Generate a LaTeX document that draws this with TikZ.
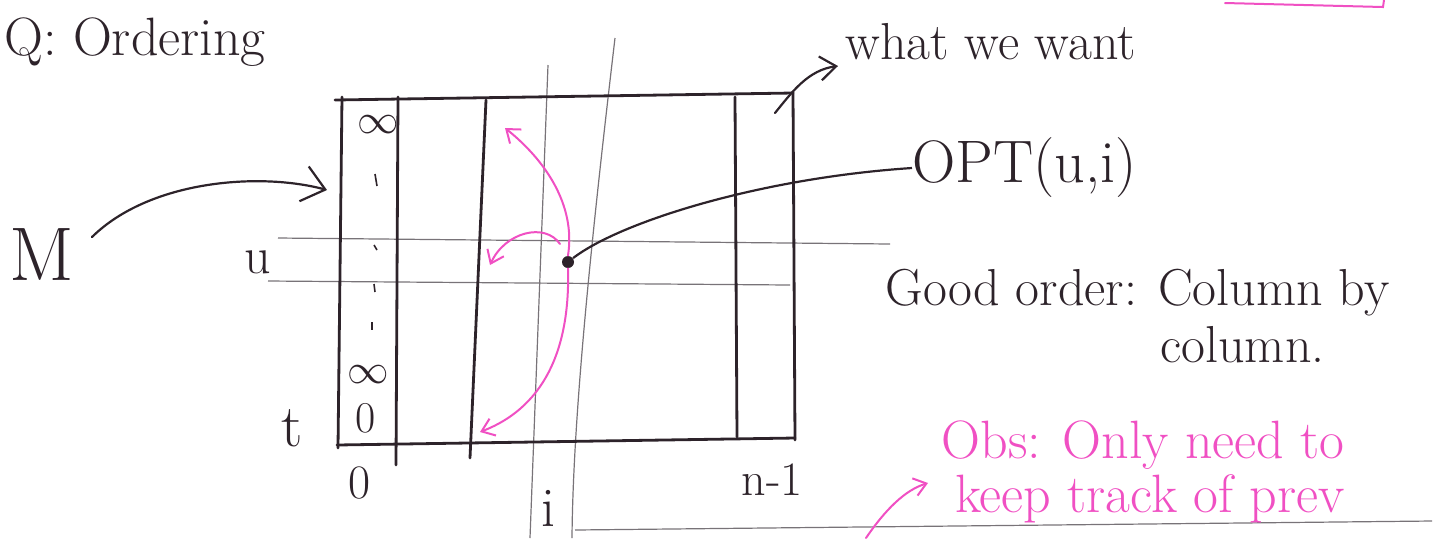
\documentclass[tikz,border=0pt]{standalone}
\usetikzlibrary{arrows.meta}
\definecolor{ink}{RGB}{45,35,42}
\definecolor{guide}{RGB}{120,115,120}
\definecolor{pinkink}{RGB}{240,80,195}
\tikzset{
  gridline/.style={draw=ink, line width=1.4pt, line cap=round},
  guideline/.style={draw=guide, line width=0.6pt},
  lbl/.style={text=ink, inner sep=0pt},
  pinklbl/.style={text=pinkink, inner sep=0pt},
  pinkarrow/.style={draw=pinkink, line width=1pt, line cap=round, -{Straight Barb[length=6pt,width=9pt]}},
  inkarrow/.style={draw=ink, line width=1.1pt, line cap=round, -{Straight Barb[length=8pt,width=12pt]}},
  pinkline/.style={draw=pinkink, line width=1pt, line cap=round},
}
\begin{document}
\begin{tikzpicture}[x=0.5pt,y=-0.5pt]
\useasboundingbox (0,0) rectangle (1437,538);

% guide lines (thin)
\draw[guideline] (278,238) -- (890,244);
\draw[guideline] (268,281) -- (790,285);
\draw[guideline] (548,65) -- (530,538);
\draw[guideline] (615,38) .. controls (590,250) and (573,420) .. (572,538);
\draw[guideline] (575,530) -- (1432,521);

% grid
\draw[gridline] (335,100) -- (793,93);
\draw[gridline] (337,445) -- (795,438);
\draw[gridline] (342,97) -- (338,448);
\draw[gridline] (398,97) -- (396,465);
\draw[gridline] (486,100) -- (470,458);
\draw[gridline] (735,97) -- (737,437);
\draw[gridline] (793,92) -- (795,440);

% column contents
\node[lbl, font=\fontsize{20}{24}\selectfont] (inf1) at (378,125) {$\infty$};
\node[lbl, font=\fontsize{20}{24}\selectfont] (inf2) at (368,375) {$\infty$};
\node[lbl, font=\fontsize{22}{26}\selectfont] (zero1) at (366,418) {0};
\draw[ink, line width=0.8pt] (375,174) -- (377,186);
\draw[ink, line width=0.8pt] (374,245) -- (377,250);
\draw[ink, line width=0.8pt] (374,284) -- (375,292);
\draw[ink, line width=0.8pt] (372,322) -- (372,330);

% labels
\node[lbl, anchor=west, font=\fontsize{27}{32}\selectfont] (title) at (4,42) {Q: Ordering};
\node[lbl, font=\fontsize{38}{44}\selectfont] (M) at (42,255) {M};
\node[lbl, font=\fontsize{26}{30}\selectfont] (u) at (258,262) {u};
\node[lbl, font=\fontsize{30}{34}\selectfont] (t) at (292,428) {t};
\node[lbl, font=\fontsize{24}{28}\selectfont] (zero0) at (360,483) {0};
\node[lbl, font=\fontsize{28}{32}\selectfont] (icol) at (548,508) {i};
\node[lbl, font=\fontsize{24}{28}\selectfont] (nm1) at (772,480) {n-1};

\node[lbl, anchor=west, font=\fontsize{26}{30}\selectfont] (want) at (845,42) {what we want};
\node[lbl, anchor=west, font=\fontsize{30}{34}\selectfont] (opt) at (912,168) {OPT(u,i)};
\node[lbl, anchor=west, font=\fontsize{26}{30}\selectfont] (good) at (885,293) {Good order: Column by};
\node[lbl, anchor=west, font=\fontsize{26}{30}\selectfont] (goodb) at (1160,345) {column.};

\node[pinklbl, anchor=east, align=right, font=\fontsize{27}{27}\selectfont] (obs) at (1345,472) {Obs: Only need to\\keep track of prev};

% dot
\node[circle, fill=ink, inner sep=0pt, minimum size=6pt] (d) at (568,262) {};

% coordinates
\coordinate (mtip) at (327,190);
\coordinate (mstart) at (92,237);
\coordinate (corner) at (775,113);
\coordinate (wanttip) at (838,66);
\coordinate (uptip) at (505,128);
\coordinate (midstart) at (560,244);
\coordinate (midtip) at (490,265);
\coordinate (downtip) at (480,432);
\coordinate (obsstart) at (866,538);
\coordinate (obstip) at (928,483);

% black connectors
\draw[inkarrow, -{Straight Barb[length=11pt,width=18pt]}] (mstart) .. controls (150,180) and (260,172) .. (mtip);
\draw[inkarrow] (corner) .. controls (792,92) and (808,70) .. (wanttip);
\draw[draw=ink, line width=1.1pt] (d) .. controls (620,222) and (760,178) .. (opt.west);

% pink arrows
\draw[pinkarrow] (d.north) .. controls (576,205) and (545,160) .. (uptip);
\draw[pinkarrow] (midstart) .. controls (545,222) and (505,232) .. (midtip);
\draw[pinkarrow] (d.south) .. controls (570,340) and (550,405) .. (downtip);
\draw[pinkarrow] (obsstart) .. controls (885,510) and (905,490) .. (obstip);

% pink box edge top right
\draw[pinkline] (1225,3) -- (1383,7) -- (1384,0);
\end{tikzpicture}
\end{document}
